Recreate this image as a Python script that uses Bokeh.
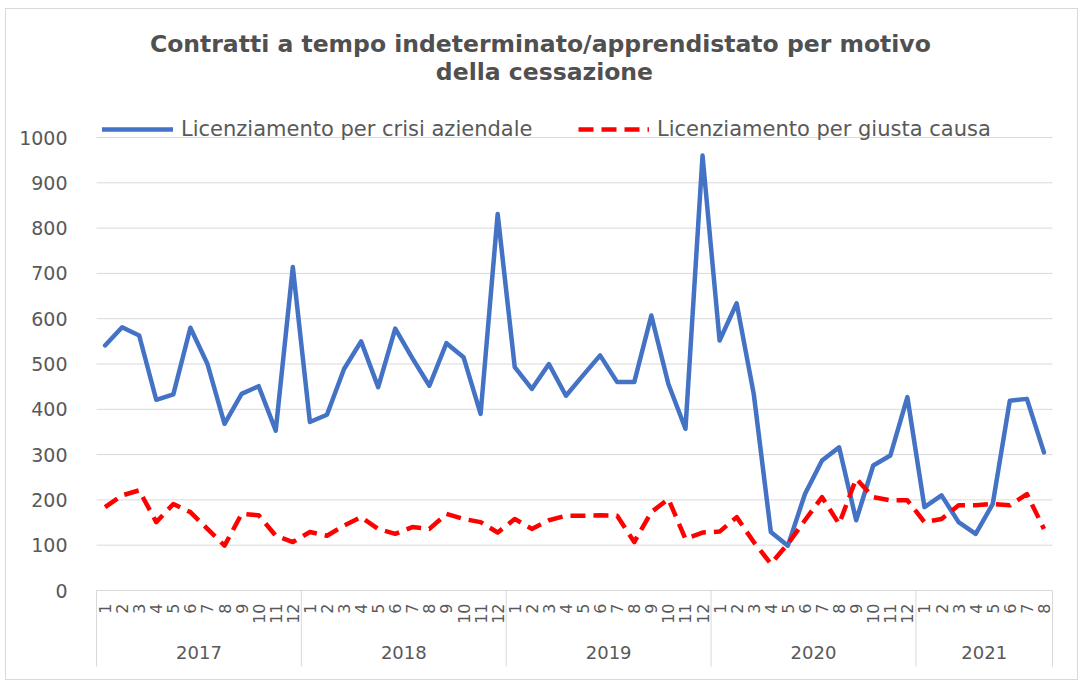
import math
from bokeh.plotting import figure
from bokeh.models import Range1d, FixedTicker, Legend, LegendItem
from bokeh.core.properties import value
from bokeh.embed import file_html
from bokeh.resources import INLINE

# ---- data ----
years = ["2017", "2018", "2019", "2020", "2021"]
months_per_year = [12, 12, 12, 12, 8]
crisi_aziendale = [541, 581, 563, 421, 433, 580, 500, 368, 434, 451, 353, 714,
                   372, 388, 489, 550, 449, 578, 513, 452, 546, 515, 390, 831,
                   493, 445, 500, 430, 475, 519, 460, 460, 607, 456, 357, 960,
                   552, 634, 434, 129, 99, 213, 287, 316, 155, 276, 298, 427,
                   184, 210, 151, 125, 191, 419, 423, 305]
giusta_causa = [184, 210, 221, 151, 191, 173, 136, 99, 169, 166, 121, 107,
                129, 121, 143, 162, 136, 125, 140, 136, 169, 158, 151, 128,
                158, 136, 155, 165, 165, 166, 165, 107, 173, 202, 114, 128,
                130, 162, 107, 59, 103, 155, 206, 147, 247, 206, 199, 199,
                151, 158, 188, 188, 191, 188, 213, 136]
y_ticks = list(range(0, 1001, 100))
title_lines = ["Contratti a tempo indeterminato/apprendistato  per motivo",
               "della cessazione"]
label_crisi = "Licenziamento per crisi aziendale"
label_giusta = "Licenziamento per giusta causa"

# ---- derived ----
month_labels = []
for n in months_per_year:
    month_labels += [str(m) for m in range(1, n + 1)]
n_months = len(month_labels)
xs = [i + 0.5 for i in range(n_months)]
bounds = [0]
for n in months_per_year:
    bounds.append(bounds[-1] + n)
year_centers = [(bounds[i] + bounds[i + 1]) / 2 for i in range(len(years))]

TXT = "#595959"
GRID = "#d9d9d9"
FONT = "DejaVu Sans"

W, H = 1073, 672
p = figure(width=W, height=H, output_backend="svg", toolbar_location=None,
           x_axis_type=None,
           x_range=Range1d(-0.9372, 57.582), y_range=Range1d(-200.88, 1282.56),
           min_border_left=74, min_border_right=0, min_border_top=0, min_border_bottom=0)
p.outline_line_color = None
p.grid.visible = False
p.background_fill_color = "white"
p.border_fill_color = "white"
p.styles = {"border": "1px solid #d9d9d9", "margin-left": "5px", "margin-top": "8px"}

p.yaxis.ticker = FixedTicker(ticks=y_ticks)
p.yaxis.axis_line_color = None
p.yaxis.major_tick_line_color = None
p.yaxis.minor_tick_line_color = None
p.yaxis.major_label_standoff = 7
p.yaxis.major_label_text_font = FONT
p.yaxis.major_label_text_font_size = "19px"
p.yaxis.major_label_text_color = TXT

# gridlines
p.segment(x0=[0] * len(y_ticks), x1=[n_months] * len(y_ticks), y0=y_ticks, y1=y_ticks,
          line_color=GRID, line_width=1)
# category axis separators
sep_bottom = -167.8
p.segment(x0=bounds, x1=bounds, y0=[0] * len(bounds), y1=[sep_bottom] * len(bounds),
          line_color=GRID, line_width=1)

# series
r_blue = p.line(xs, crisi_aziendale, line_color="#4472C4", line_width=4.5, line_join="round",
                line_cap="round")
r_red = p.line(xs, giusta_causa, line_color="#FF0000", line_width=4.5, line_dash="15 8",
               line_join="round")

# month labels
p.text(x=xs, y=[-28.7] * n_months, text=month_labels, angle=math.pi / 2,
       text_align="right", text_baseline="middle", text_font=value(FONT),
       text_font_size="16px", text_color=TXT)
# year labels
p.text(x=year_centers, y=[-135.8] * len(years), text=years, text_align="center",
       text_baseline="middle", text_font=value(FONT), text_font_size="18px", text_color=TXT)

# title
p.text(x=[26.24, 26.24], y=[1206.4, 1144.6], text=title_lines, text_align="center",
       text_baseline="middle", text_font=value(FONT), text_font_size="23.5px",
       text_font_style="bold", text_color="#505050")

def make_legend(label, r, x):
    return Legend(items=[LegendItem(label=label, renderers=[r])], location=(x, 540),
                  orientation="horizontal", glyph_width=71, glyph_height=20,
                  label_standoff=8, padding=0, margin=0, border_line_color=None,
                  background_fill_alpha=0, label_text_font=FONT,
                  label_text_font_size="21px", label_text_color=TXT)

p.add_layout(make_legend(label_crisi, r_blue, 22))
p.add_layout(make_legend(label_giusta, r_red, 498))

open("out.html", "w").write(file_html(p, INLINE))
